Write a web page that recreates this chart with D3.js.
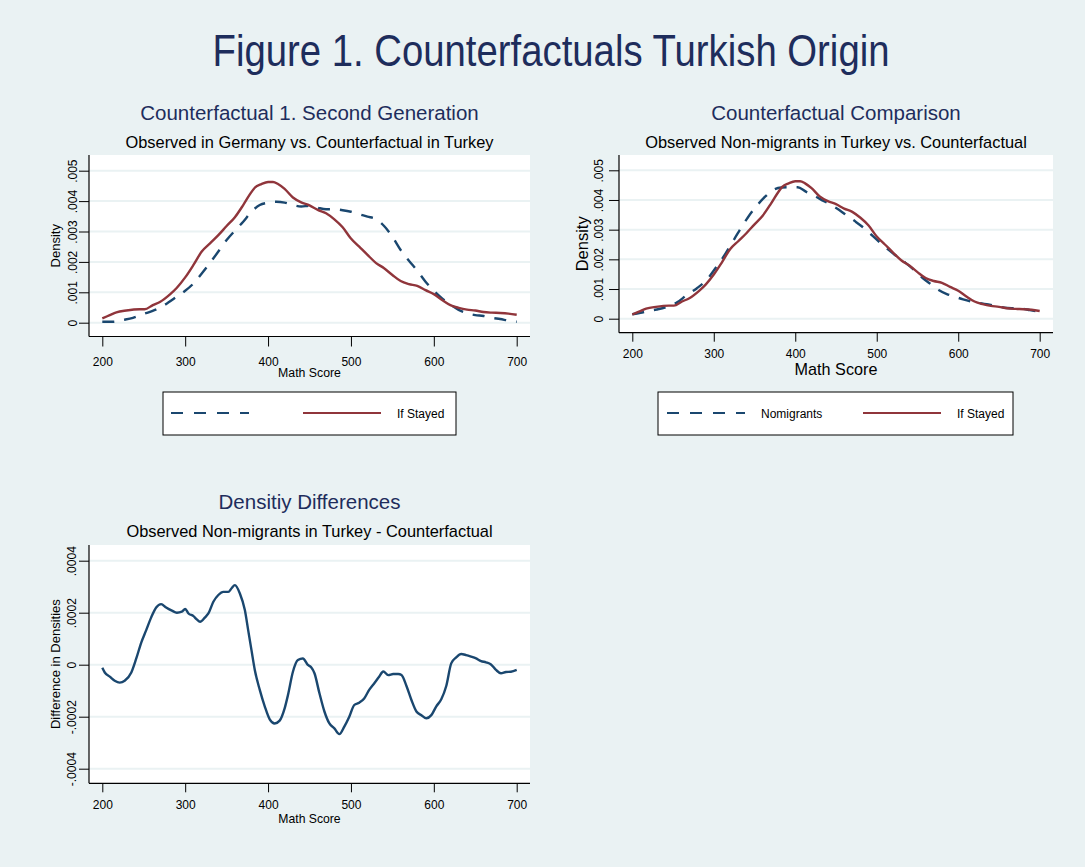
<!DOCTYPE html>
<html>
<head>
<meta charset="utf-8">
<script src="https://cdn.jsdelivr.net/npm/d3@7"></script>
<style>
  body { margin: 0; background: #eaf2f3; }
  text { font-family: "Liberation Sans", Arial, Helvetica, sans-serif; }
</style>
</head>
<body>
<div id="chart"></div>
<script>

// x tick values shared by all panels
var scoreTicks = [200, 300, 400, 500, 600, 700];
var densityTicks = [0, .001, .002, .003, .004, .005];
var diffTicks = [-.0004, -.0002, 0, .0002, .0004];

// Counterfactual "If Stayed" (same series in both top panels)
var ifStayed = [
    [200, .00014], [209, .00025], [217, .00034], [229, .00040], [245, .00044], [251, .00044],
    [261, .00058], [270, .00069], [282, .00094], [290, .00115], [300, .00149], [310, .00190],
    [320, .00234], [330, .00261], [340, .00288], [350, .00318], [360, .00347], [370, .00387],
    [378, .00422], [384, .00444], [392, .00456], [400, .00463], [406, .00463], [412, .00456],
    [420, .00440], [430, .00412], [440, .00396], [450, .00386], [460, .00371], [470, .00360],
    [480, .00340], [490, .00314], [500, .00277], [510, .00250], [520, .00223], [530, .00197],
    [540, .00179], [550, .00157], [560, .00137], [570, .00127], [580, .00121], [590, .00107],
    [600, .00094], [610, .00075], [620, .00058], [630, .00049], [640, .00043], [650, .00040],
    [660, .00035], [670, .00033], [680, .00032], [690, .00030], [700, .00026]
];

// Observed second generation in Germany
var observedGermany = [
    [200, .00003], [213, .00003], [225, .00009], [237, .00016], [250, .00029], [260, .00038],
    [270, .00050], [280, .00067], [290, .00086], [300, .00105], [310, .00129], [320, .00162],
    [330, .00197], [340, .00234], [350, .00272], [360, .00303], [370, .00332], [380, .00365],
    [390, .00387], [400, .00395], [410, .00398], [420, .00395], [430, .00387], [440, .00382],
    [450, .00385], [460, .00378], [470, .00373], [480, .00373], [490, .00370], [500, .00365],
    [510, .00357], [520, .00349], [530, .00341], [540, .00318], [550, .00283], [560, .00239],
    [570, .00204], [580, .00171], [590, .00135], [600, .00105], [610, .00080], [620, .00060],
    [630, .00042], [640, .00031], [650, .00025], [660, .00022], [670, .00016], [680, .00012],
    [690, .00007], [700, .00003]
];

// Observed non-migrants in Turkey
var nonMigrants = [
    [200, .00015], [210, .00020], [222, .00027], [230, .00031], [243, .00040], [255, .00055],
    [267, .00080], [279, .00102], [291, .00130], [302, .00170], [312, .00209], [322, .00254],
    [332, .00299], [342, .00342], [352, .00378], [363, .00411], [373, .00434], [383, .00442],
    [393, .00443], [403, .00443], [413, .00428], [424, .00413], [434, .00398], [444, .00383],
    [454, .00366], [464, .00346], [474, .00327], [485, .00304], [495, .00279], [505, .00254],
    [515, .00231], [525, .00209], [535, .00189], [546, .00164], [556, .00138], [566, .00117],
    [576, .00097], [586, .00083], [596, .00074], [606, .00065], [617, .00057], [627, .00052],
    [637, .00048], [647, .00043], [657, .00037], [668, .00035], [678, .00034], [688, .00029],
    [700, .00024]
];

// Non-migrants minus counterfactual
var densityDiff = [
    [200, -.000012], [203, -.00003], [209, -.000046], [215, -.000062], [221, -.000069], [227, -.000062],
    [235, -.00003], [241, .000024], [247, .000085], [253, .000133], [259, .000182], [265, .00022],
    [271, .000233], [277, .00022], [284, .000208], [290, .0002], [296, .000204], [300, .000214],
    [304, .000197], [310, .000187], [314, .000174], [318, .000165], [324, .000182], [328, .000197],
    [334, .000242], [340, .000268], [346, .00028], [352, .00028], [356, .000294], [360, .000306],
    [366, .000274], [372, .00021], [376, .000133], [380, .000056], [384, -.00002], [390, -.000097],
    [396, -.00016], [402, -.00021], [408, -.000226], [414, -.000215], [420, -.000168], [424, -.000117],
    [430, -.000027], [436, .000018], [442, .000024], [448, -.000001], [452, -.00001], [456, -.000033],
    [462, -.00011], [468, -.00018], [474, -.000226], [480, -.000245], [486, -.000267], [492, -.000238],
    [498, -.0002], [504, -.000155], [510, -.000146], [516, -.00013], [522, -.000097], [528, -.000072],
    [534, -.000046], [539, -.000026], [545, -.00004], [551, -.000036], [557, -.000036], [561, -.00004],
    [567, -.000082], [573, -.000136], [579, -.00018], [585, -.000194], [591, -.000206], [597, -.000194],
    [603, -.00016], [609, -.000133], [615, -.000082], [621, .000005], [627, .000028], [633, .000041],
    [639, .000037], [645, .000031], [651, .000024], [657, .000014], [663, .000009], [669, .000001],
    [675, -.00002], [681, -.000033], [687, -.000028], [693, -.000027], [700, -.00002]
];

var navy = "#1a476f";
var maroon = "#90353b";
var titleColor = "#1e2d5c";
var gridColor = "#eaf2f3";

var svg = d3.select("#chart")
    .append("svg")
    .attr("width", 1085)
    .attr("height", 867);

svg.append("rect")
    .attr("width", 1085).attr("height", 867)
    .attr("fill", "#eaf2f3");

svg.append("text")
    .attr("x", 551).attr("y", 66)
    .attr("text-anchor", "middle")
    .attr("font-size", 44)
    .attr("textLength", 677)
    .attr("lengthAdjust", "spacingAndGlyphs")
    .attr("fill", titleColor)
    .text("Figure 1. Counterfactuals Turkish Origin");

function stataFmt(d) {
    if (d === 0) return "0";
    var s = Math.abs(d).toString().replace(/^0/, "");
    return (d < 0 ? "-" : "") + s;
}

function drawPanel(p) {
    var g = svg.append("g");

    var x = d3.scaleLinear()
        .domain([200, 700])
        .range([p.left + 13.3, p.right - 13.3]);
    var y = d3.scaleLinear()
        .domain(p.yDomain)
        .range([p.yBottom, p.yTop]);

    // titles
    g.append("text")
        .attr("x", (p.left + p.right) / 2).attr("y", p.titleY)
        .attr("text-anchor", "middle")
        .attr("font-size", 20.5)
        .attr("fill", titleColor)
        .text(p.title);
    g.append("text")
        .attr("x", (p.left + p.right) / 2).attr("y", p.titleY + 28)
        .attr("text-anchor", "middle")
        .attr("font-size", 16.4)
        .attr("fill", "#000")
        .text(p.subtitle);

    // plot region
    g.append("rect")
        .attr("x", p.left).attr("y", p.top)
        .attr("width", p.right - p.left).attr("height", p.bottom - p.top)
        .attr("fill", "#fff");

    g.append("g")
        .selectAll("line").data(p.yTicks).enter().append("line")
        .attr("x1", p.left).attr("x2", p.right)
        .attr("y1", d => y(d)).attr("y2", d => y(d))
        .attr("stroke", gridColor)
        .attr("stroke-width", 2);

    // axes
    var yAxis = g.append("g")
        .attr("transform", `translate(${p.left},0)`)
        .call(d3.axisLeft(y).tickValues(p.yTicks).tickSize(10).tickFormat(stataFmt));
    yAxis.select(".domain").remove();
    yAxis.selectAll("text")
        .attr("x", 0).attr("dy", null)
        .attr("y", -p.yLabelGap)
        .attr("text-anchor", "middle")
        .attr("transform", "rotate(-90)")
        .attr("font-size", 12)
        .attr("font-family", null)
        .attr("fill", "#000");

    var xAxis = g.append("g")
        .attr("transform", `translate(0,${p.bottom})`)
        .call(d3.axisBottom(x).tickValues(scoreTicks).tickSize(p.xTick).tickPadding(p.xPad));
    xAxis.select(".domain").remove();
    xAxis.selectAll("text")
        .attr("font-size", 12)
        .attr("font-family", null)
        .attr("fill", "#000");

    g.append("line")
        .attr("x1", p.left).attr("x2", p.left)
        .attr("y1", p.top).attr("y2", p.bottom)
        .attr("stroke", "#000").attr("stroke-width", 1.2);
    g.append("line")
        .attr("x1", p.left).attr("x2", p.right)
        .attr("y1", p.bottom).attr("y2", p.bottom)
        .attr("stroke", "#000").attr("stroke-width", 1.2);

    g.append("text")
        .attr("x", (p.left + p.right) / 2).attr("y", p.xTitleY)
        .attr("text-anchor", "middle")
        .attr("font-size", p.axisTitleSize)
        .text("Math Score");
    g.append("text")
        .attr("transform", `translate(${p.yTitleX},${(p.top + p.bottom) / 2}) rotate(-90)`)
        .attr("text-anchor", "middle")
        .attr("font-size", p.yTitleSize)
        .text(p.yTitle);

    var line = d3.line()
        .x(d => x(d[0]))
        .y(d => y(d[1]))
        .curve(d3.curveMonotoneX);

    p.series.forEach(function (s) {
        g.append("path")
            .datum(s.data)
            .attr("fill", "none")
            .attr("stroke", s.color)
            .attr("stroke-width", 2.4)
            .attr("stroke-dasharray", s.dash ? "12,10" : null)
            .attr("d", line);
    });

    if (p.legend) {
        var L = p.legend;
        g.append("rect")
            .attr("x", L.x).attr("y", 392)
            .attr("width", L.w).attr("height", 43)
            .attr("fill", "#fff")
            .attr("stroke", "#000");
        L.items.forEach(function (it) {
            g.append("line")
                .attr("x1", it.x).attr("x2", it.x + 78)
                .attr("y1", 413).attr("y2", 413)
                .attr("stroke", it.color)
                .attr("stroke-width", 2)
                .attr("stroke-dasharray", it.dash ? "12,11" : null);
            g.append("text")
                .attr("x", it.x + 94).attr("y", 418)
                .attr("font-size", 12)
                .text(it.label);
        });
    }
}

drawPanel({
    left: 89, right: 530, top: 155, bottom: 336.5,
    yTop: 170.7, yBottom: 322.7, yDomain: [0, .005], yTicks: densityTicks,
    title: "Counterfactual 1. Second Generation",
    subtitle: "Observed in Germany vs. Counterfactual in Turkey",
    titleY: 120,
    yLabelGap: 12, yTitleX: 59.5, yTitleSize: 13, yTitle: "Density",
    xTick: 10, xPad: 10.5, xTitleY: 376.7, axisTitleSize: 12.3,
    series: [
        { data: observedGermany, color: navy, dash: true },
        { data: ifStayed, color: maroon }
    ],
    legend: {
        x: 163, w: 293,
        items: [
            { x: 171, color: navy, dash: true, label: "" },
            { x: 303, color: maroon, label: "If Stayed" }
        ]
    }
});

drawPanel({
    left: 619, right: 1053, top: 155, bottom: 332.7,
    yTop: 170.3, yBottom: 318.7, yDomain: [0, .005], yTicks: densityTicks,
    title: "Counterfactual Comparison",
    subtitle: "Observed Non-migrants in Turkey vs. Counterfactual",
    titleY: 120,
    yLabelGap: 16, yTitleX: 588, yTitleSize: 16.5, yTitle: "Density",
    xTick: 9, xPad: 7.5, xTitleY: 375, axisTitleSize: 16.2,
    series: [
        { data: nonMigrants, color: navy, dash: true },
        { data: ifStayed, color: maroon }
    ],
    legend: {
        x: 658, w: 355,
        items: [
            { x: 667, color: navy, dash: true, label: "Nomigrants" },
            { x: 863, color: maroon, label: "If Stayed" }
        ]
    }
});

drawPanel({
    left: 89, right: 530, top: 545, bottom: 783.3,
    yTop: 560.7, yBottom: 768.7, yDomain: [-.0004, .0004], yTicks: diffTicks,
    title: "Densitiy Differences",
    subtitle: "Observed Non-migrants in Turkey - Counterfactual",
    titleY: 509,
    yLabelGap: 13, yTitleX: 59.5, yTitleSize: 13, yTitle: "Difference in Densities",
    xTick: 9, xPad: 8.5, xTitleY: 822.7, axisTitleSize: 12.2,
    series: [
        { data: densityDiff, color: navy }
    ]
});

</script>
</body>
</html>
